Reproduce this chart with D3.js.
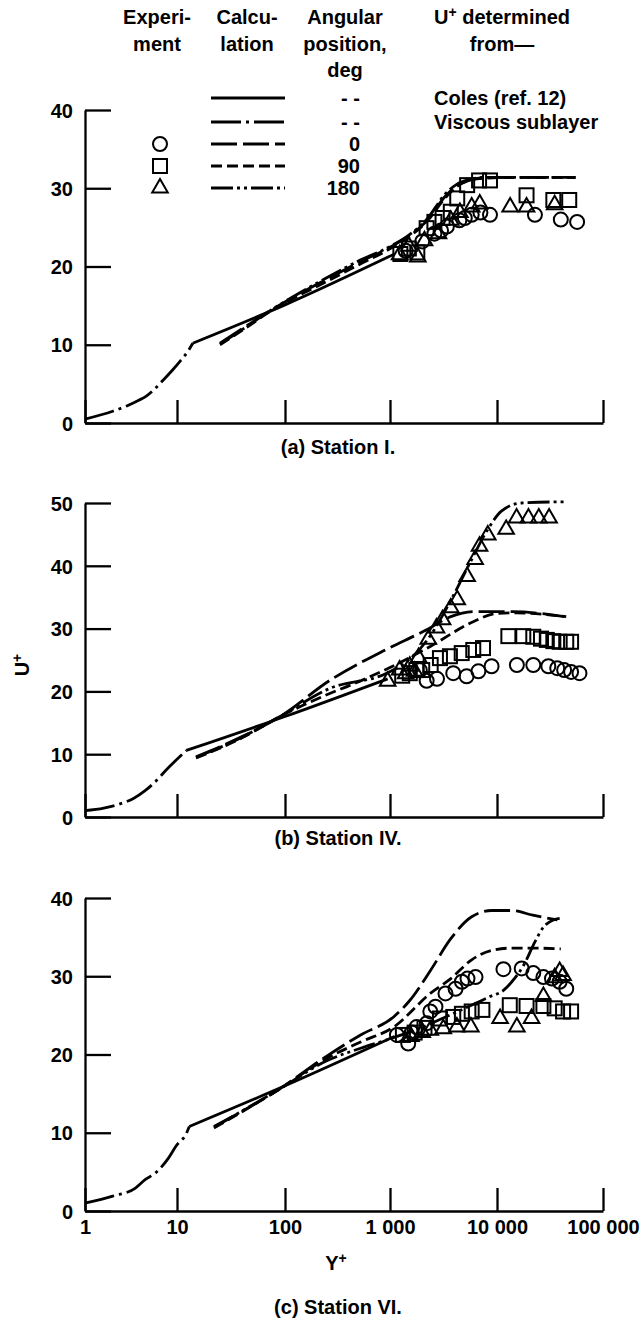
<!DOCTYPE html>
<html><head><meta charset="utf-8">
<script src="https://cdn.jsdelivr.net/npm/d3@7"></script>
<style>
body{margin:0;background:#fff}
svg{display:block}
text{font-family:"Liberation Sans",Arial,Helvetica,sans-serif;font-weight:bold;fill:#000}
</style>
</head><body>
<svg id="chart" width="643" height="1322"></svg>
<script>
// ---------------- data ----------------
const xTickValues = [1, 10, 100, 1000, 10000, 100000];
const xTickLabels = ["1", "10", "100", "1 000", "10 000", "100 000"];
const yTicksA = [0, 10, 20, 30, 40];
const yTicksB = [0, 10, 20, 30, 40, 50];
const yTicksC = [0, 10, 20, 30, 40];

// Panel (a) Station I
const viscA = [[1,0.5],[2,1.5],[3,2.3],[3.75,2.85],[4.6,3.4],[7.1,5.5],[9,6.8],[10.7,7.9],[12.8,9.3],[14,10.2]];
const colesA = [[14,10.2],[100,15.1],[1100,21.6]];
const calc0A = [[25,10.2],[45,12.5],[70,14.2],[150,16.8],[260,18.5],[500,20.5],[950,22.3],[1500,23.9],[2200,25.8],[3300,29.0],[4200,30.3],[5500,31.0],[8000,31.4],[20000,31.4],[55000,31.4]];
const calc90A = [[25,10.0],[45,12.3],[70,14.1],[150,16.6],[260,18.2],[500,20.2],[950,22.1],[1500,23.8],[2200,25.7],[3300,28.8],[4200,30.2],[5500,31.0],[8000,31.3],[20000,31.4],[55000,31.4]];
const calc180A = [[25,10.1],[45,12.4],[70,14.2],[150,16.9],[260,18.7],[500,20.7],[950,22.4],[1500,24.0],[2200,26.0],[3300,29.3],[4200,30.5],[5500,31.1],[8000,31.4],[20000,31.4],[55000,31.4]];
const circlesA = [[1400,22.0],[2000,23.2],[2600,24.2],[3000,24.6],[3400,25.1],[4450,25.9],[5000,26.2],[5800,26.6],[7000,26.9],[8600,26.6],[22800,26.6],[40000,26.0],[57000,25.7]];
const squaresA = [[1250,21.6],[1500,22.3],[1800,21.8],[2200,24.9],[2600,25.7],[3100,26.2],[3700,27.0],[4250,28.7],[5260,30.4],[6800,31.0],[8600,31.0],[19000,29.1],[34000,28.5],[48000,28.5]];
const trianglesA = [[1230,21.5],[1500,22.6],[1820,21.2],[2100,23.3],[2840,24.2],[3700,25.9],[4500,26.9],[5800,27.6],[6900,28.0],[13300,27.6],[19000,27.6],[35000,27.9]];

// Panel (b) Station IV
const viscB = [[1,1.0],[1.6,1.4],[2.3,2.0],[3.4,3.0],[4.5,4.2],[5.7,5.5],[8,7.8],[10,9.2],[12.2,10.6]];
const colesB = [[12.2,10.6],[100,16.0],[950,22.0]];
const calc0B = [[15,9.6],[40,12.8],[90,16.0],[270,21.8],[900,26.6],[2200,29.8],[3700,31.9],[6200,32.7],[14000,32.7],[43000,31.9]];
const calc90B = [[15,9.4],[40,12.6],[90,16.0],[270,19.7],[420,21.0],[1000,23.8],[2400,27.2],[6000,31.1],[9900,32.4],[15000,32.5],[45000,31.9]];
const calc180B = [[15,9.5],[40,12.7],[90,16.0],[270,20.5],[930,22.9],[1500,25.0],[2300,28.5],[3700,34.5],[5600,40.5],[8200,45.8],[11000,48.7],[17000,50.0],[45000,50.2]];
const circlesB = [[1900,23.4],[2200,21.7],[2750,22.0],[3900,22.9],[5200,22.4],[6700,23.2],[8900,24.0],[15400,24.2],[22000,24.2],[30500,24.0],[37000,23.7],[43000,23.4],[50000,23.1],[60000,22.9]];
const squaresB = [[1300,22.5],[1530,22.9],[1760,23.4],[2000,23.4],[2400,24.2],[2930,25.3],[3630,25.6],[4680,26.1],[6000,26.6],[7400,26.9],[12800,28.8],[17700,28.8],[22000,28.7],[26000,28.4],[29500,28.2],[34000,28.0],[39000,27.9],[45000,27.9],[50000,27.9]];
const trianglesB = [[950,21.6],[1230,23.4],[1400,22.8],[1530,24.0],[1700,23.2],[1850,25.4],[2280,28.3],[2720,30.1],[3100,31.4],[3700,33.3],[4250,34.6],[5260,38.3],[6250,41.0],[6870,43.1],[8200,44.9],[12200,45.8],[15300,47.6],[19800,47.6],[24800,47.6],[31000,47.6]];

// Panel (c) Station VI
const viscC = [[1,1.0],[2,1.9],[3.5,2.9],[4.5,4.0],[5.9,4.9],[8,6.7],[9.9,8.4],[12.2,9.9],[13,10.8]];
const colesC = [[13,10.8],[100,16.0],[1100,22.3]];
const calc0C = [[22,10.8],[87,15.5],[250,19.8],[525,22.5],[1080,24.8],[1530,26.9],[2380,30.7],[3700,34.8],[5800,37.6],[8900,38.4],[13900,38.4],[21800,37.8],[37000,37.2]];
const calc90C = [[22,10.6],[87,15.5],[250,19.5],[525,21.6],[1080,23.5],[2380,27.8],[3700,29.7],[5800,32.1],[8900,33.3],[13900,33.6],[21800,33.6],[40000,33.5]];
const calc180C = [[22,10.7],[87,15.5],[250,19.2],[525,20.8],[1000,22.0],[2000,23.5],[4000,25.3],[8600,27.4],[11500,28.2],[13800,29.3],[18000,31.5],[22800,34.4],[27500,36.3],[34000,37.2],[39000,37.4]];
const circlesC = [[1160,22.5],[1480,21.4],[1600,22.8],[1770,23.5],[2210,24.0],[2380,25.5],[2660,26.1],[3300,27.8],[4100,28.4],[4700,29.3],[5300,29.7],[6300,29.9],[11500,30.9],[17100,31.0],[22000,30.4],[27400,29.9],[33000,29.7],[39000,29.3],[45000,28.4]];
const squaresC = [[1320,22.5],[1700,22.8],[2100,23.4],[2930,24.6],[3900,24.8],[4700,25.2],[5800,25.5],[7300,25.7],[13200,26.3],[19000,26.2],[27400,26.2],[35000,25.9],[42000,25.5],[50000,25.5]];
const trianglesC = [[1570,22.3],[2000,22.8],[2380,23.1],[3150,23.3],[4220,23.5],[5700,23.5],[10700,24.6],[15400,23.5],[21200,24.6],[27400,27.4],[35000,29.8],[39000,30.6],[42000,30.1]];

// legend
const legendAngles = ["- -", "- -", "0", "90", "180"];
const legendSources = ["Coles (ref. 12)", "Viscous sublayer", "", "", ""];

// ---------------- drawing ----------------
const svg = d3.select("#chart");
const FS = 20;

const x = d3.scaleLog().domain(xTickValues).range([85, 177, 285, 390, 497, 603]);

const styles = {
  coles: null,
  visc: "30,5,3,5",
  c0: "26,6",
  c90: "11,5",
  c180: "22,4,3,4,3,4"
};
const LW = 2.8;

const panels = [
  {ticks: yTicksA, range: [423, 110], visc: viscA, coles: colesA, c0: calc0A, c90: calc90A, c180: calc180A,
   circ: circlesA, sq: squaresA, tri: trianglesA, caption: "(a) Station I.", capY: 454, labels: false},
  {ticks: yTicksB, range: [817, 503], visc: viscB, coles: colesB, c0: calc0B, c90: calc90B, c180: calc180B,
   circ: circlesB, sq: squaresB, tri: trianglesB, caption: "(b) Station IV.", capY: 845, labels: false},
  {ticks: yTicksC, range: [1211, 898], visc: viscC, coles: colesC, c0: calc0C, c90: calc90C, c180: calc180C,
   circ: circlesC, sq: squaresC, tri: trianglesC, caption: "(c) Station VI.", capY: 1314, labels: true}
];

function markers(g, kind, data, xs, ys) {
  const sel = g.append("g").attr("fill", "none").attr("stroke", "#000").attr("stroke-width", 2);
  if (kind === "circle") {
    sel.selectAll("circle").data(data).join("circle")
      .attr("cx", d => xs(d[0])).attr("cy", d => ys(d[1])).attr("r", 7);
  } else if (kind === "square") {
    sel.selectAll("rect").data(data).join("rect")
      .attr("x", d => xs(d[0]) - 7).attr("y", d => ys(d[1]) - 7).attr("width", 14).attr("height", 14);
  } else {
    const sym = d3.symbol().type(d3.symbolTriangle).size(105);
    sel.selectAll("path").data(data).join("path")
      .attr("transform", d => `translate(${xs(d[0])},${ys(d[1])})`).attr("d", sym);
  }
}

panels.forEach(p => {
  const y = d3.scaleLinear().domain([p.ticks[0], p.ticks[p.ticks.length - 1]]).range(p.range);
  const g = svg.append("g");

  const ya = g.append("g").attr("transform", `translate(${x(1)},0)`)
    .call(d3.axisLeft(y).tickValues(p.ticks).tickSize(-26).tickSizeOuter(0).tickPadding(12).tickFormat(d3.format("d")));
  const xa = g.append("g").attr("transform", `translate(0,${p.range[0]})`)
    .call(d3.axisBottom(x).tickValues(xTickValues).tickSize(-23).tickSizeOuter(0).tickPadding(9)
      .tickFormat((d, i) => p.labels ? xTickLabels[i] : ""));
  [ya, xa].forEach(a => {
    a.attr("font-family", null).attr("font-size", null);
    a.selectAll("path,line").attr("stroke", "#000").attr("stroke-width", 2.3);
    a.selectAll("text").attr("font-size", FS);
  });
  ya.selectAll("text").attr("dy", "0.36em");

  const line = d3.line().x(d => x(d[0])).y(d => y(d[1])).curve(d3.curveMonotoneX);
  const curves = [["visc", p.visc], ["coles", p.coles], ["c90", p.c90], ["c180", p.c180], ["c0", p.c0]];
  curves.forEach(([k, data]) => {
    g.append("path").datum(data).attr("d", line)
      .attr("fill", "none").attr("stroke", "#000").attr("stroke-width", LW)
      .attr("stroke-dasharray", styles[k]);
  });

  markers(g, "circle", p.circ, x, y);
  markers(g, "square", p.sq, x, y);
  markers(g, "triangle", p.tri, x, y);

  g.append("text").attr("x", 338).attr("y", p.capY).attr("text-anchor", "middle")
    .attr("font-size", FS).text(p.caption);
});

// axis titles
const ut = svg.append("text").attr("transform", "translate(29,665) rotate(-90)")
  .attr("text-anchor", "middle").attr("font-size", FS);
ut.append("tspan").text("U");
ut.append("tspan").attr("dy", -7).attr("font-size", 14).text("+");

const yt = svg.append("text").attr("x", 336).attr("y", 1270).attr("text-anchor", "middle").attr("font-size", FS);
yt.append("tspan").text("Y");
yt.append("tspan").attr("dy", -7).attr("font-size", 14).text("+");

// legend header
const hdr = [
  {cx: 157, lines: ["Experi-", "ment"]},
  {cx: 247, lines: ["Calcu-", "lation"]},
  {cx: 345, lines: ["Angular", "position,", "deg"]}
];
const hdrY = [24, 51, 77];
hdr.forEach(h => h.lines.forEach((t, i) => {
  svg.append("text").attr("x", h.cx).attr("y", hdrY[i]).attr("text-anchor", "middle").attr("font-size", FS).text(t);
}));
const uh = svg.append("text").attr("x", 502).attr("y", hdrY[0]).attr("text-anchor", "middle").attr("font-size", FS);
uh.append("tspan").text("U");
uh.append("tspan").attr("dy", -7).attr("font-size", 14).text("+");
uh.append("tspan").attr("dy", 7).text(" determined");
svg.append("text").attr("x", 502).attr("y", hdrY[1]).attr("text-anchor", "middle").attr("font-size", FS).text("from—");

// legend rows
const rowY = [98, 122, 144, 166, 188];
const rowStyles = ["coles", "visc", "c0", "c90", "c180"];
const lg = svg.append("g");
rowStyles.forEach((k, i) => {
  lg.append("line").attr("x1", 211).attr("x2", 285).attr("y1", rowY[i]).attr("y2", rowY[i])
    .attr("stroke", "#000").attr("stroke-width", LW).attr("stroke-dasharray", styles[k]);
  lg.append("text").attr("x", 360).attr("y", rowY[i] + 7).attr("text-anchor", "end").attr("font-size", FS).text(legendAngles[i]);
  if (legendSources[i]) lg.append("text").attr("x", 434).attr("y", rowY[i] + 7).attr("font-size", FS).text(legendSources[i]);
});
const legX = () => 160;
markers(lg, "circle", [[0, rowY[2]]], legX, d => d);
markers(lg, "square", [[0, rowY[3]]], legX, d => d);
markers(lg, "triangle", [[0, rowY[4]]], legX, d => d);
</script>
</body></html>
